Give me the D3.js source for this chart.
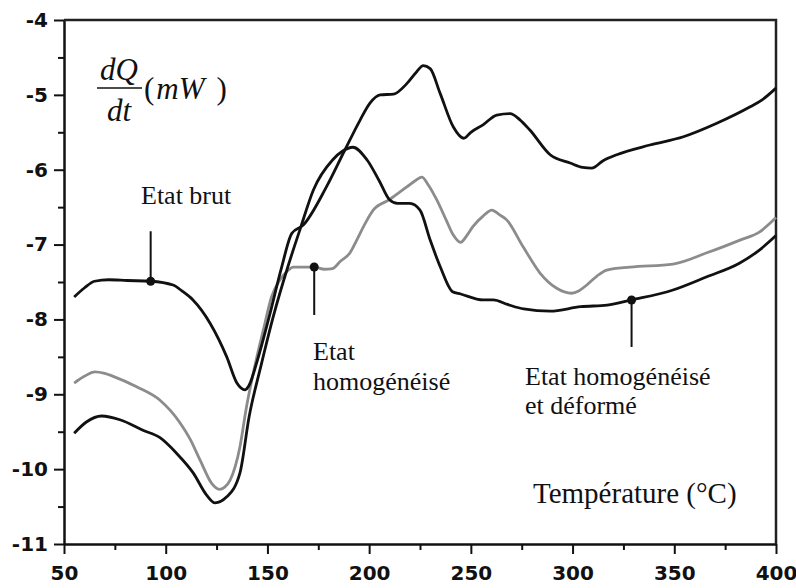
<!DOCTYPE html>
<html>
<head>
<meta charset="utf-8">
<script src="https://cdn.jsdelivr.net/npm/d3@7"></script>
<style>
  body { margin: 0; background: #fff; }
  .tick text { font-family: "DejaVu Sans", sans-serif; font-weight: bold; font-size: 20px; fill: #111; }
  .lbl { font-family: "Liberation Serif", "Times New Roman", serif; font-size: 26px; fill: #111; }
</style>
</head>
<body>
<div class="canvas"></div>
<script>
// data (temperature in °C, dQ/dt in mW)
const brutT = [55, 60, 65, 72, 81, 92.6, 103.6, 108, 113.4, 121.8, 130, 135, 139, 141, 144.7, 151, 157, 162, 167.6, 179, 188, 195.5, 200.4, 205.4, 212, 218.5, 223.4, 226.6, 230, 234.9, 241.4, 246.5, 250, 256, 262.7, 269.3, 274, 279, 289, 298.8, 305, 309.4, 315, 321.7, 338, 354.5, 370.9, 387.3, 393, 400]
const brutV = [-7.70, -7.58, -7.49, -7.47, -7.48, -7.49, -7.54, -7.62, -7.74, -8.05, -8.50, -8.85, -8.94, -8.88, -8.58, -7.95, -7.30, -6.85, -6.74, -6.23, -5.74, -5.34, -5.11, -5.00, -4.99, -4.85, -4.69, -4.61, -4.65, -4.98, -5.43, -5.58, -5.50, -5.40, -5.27, -5.25, -5.33, -5.47, -5.80, -5.91, -5.97, -5.98, -5.88, -5.80, -5.67, -5.56, -5.38, -5.16, -5.07, -4.91]

const homT = [55, 60, 65.2, 70, 74.2, 85.7, 97.2, 107, 112, 116.9, 122.6, 126.3, 129, 131.6, 136.5, 139.7, 144, 148, 152, 156.2, 160, 162.7, 173, 178, 182, 186, 190.6, 193.9, 198, 202, 210, 218.5, 223, 225.9, 229, 233.2, 238, 241.3, 245, 248, 251, 256, 260.3, 264, 267.6, 275.7, 284, 292, 299.6, 303, 307, 312, 316.8, 328.3, 349.4, 366, 382.3, 392, 400]
const homV = [-8.85, -8.76, -8.70, -8.72, -8.76, -8.90, -9.08, -9.38, -9.60, -9.88, -10.19, -10.27, -10.24, -10.15, -9.70, -9.17, -8.60, -8.14, -7.70, -7.47, -7.35, -7.30, -7.30, -7.33, -7.32, -7.22, -7.11, -6.94, -6.72, -6.54, -6.40, -6.23, -6.14, -6.10, -6.20, -6.40, -6.68, -6.87, -6.97, -6.88, -6.76, -6.62, -6.54, -6.60, -6.67, -7.03, -7.38, -7.58, -7.65, -7.62, -7.54, -7.42, -7.34, -7.30, -7.26, -7.11, -6.94, -6.83, -6.64]

const defT = [55, 61, 68.5, 77.5, 88.8, 97.2, 105.4, 113.5, 120.2, 124.2, 130, 136.5, 141, 147, 153, 160, 166, 172.6, 182, 187, 192, 199, 205, 210, 214, 220, 225, 230, 235, 241, 245, 256, 261, 268, 276, 289, 304, 317, 329, 349, 366, 382, 392, 400]
const defV = [-9.52, -9.37, -9.29, -9.34, -9.48, -9.58, -9.79, -10.05, -10.35, -10.45, -10.37, -10.05, -9.30, -8.60, -7.95, -7.30, -6.80, -6.27, -5.87, -5.75, -5.70, -5.87, -6.15, -6.40, -6.45, -6.45, -6.54, -6.94, -7.30, -7.63, -7.66, -7.74, -7.74, -7.80, -7.86, -7.89, -7.83, -7.81, -7.74, -7.61, -7.43, -7.25, -7.07, -6.88]

const xTicks = [50, 100, 150, 200, 250, 300, 350, 400]
const yTicks = [-4, -5, -6, -7, -8, -9, -10, -11]

const margin = {top: 20, right: 20, bottom: 44, left: 64}
const graphWidth = 796 - margin.left - margin.right
const graphHeight = 588 - margin.top - margin.bottom

const svg = d3.select('.canvas')
    .append('svg')
    .attr('width', 796)
    .attr('height', 588)

const graph = svg.append('g')
    .attr('transform', `translate(${margin.left}, ${margin.top})`)

const x = d3.scaleLinear().domain([50, 400]).range([0, graphWidth])
const y = d3.scaleLinear().domain([-11, -4]).range([graphHeight, 0])

// minor ticks first, then major ticks with labels
const xMinor = d3.range(75, 400, 50)
const yMinor = d3.range(-10.5, -4, 1)

graph.append('g')
    .attr('transform', `translate(0, ${graphHeight})`)
    .call(d3.axisBottom(x).tickValues(xMinor).tickSize(6).tickFormat(''))
    .call(g => g.select('.domain').remove())
graph.append('g')
    .call(d3.axisLeft(y).tickValues(yMinor).tickSize(6).tickFormat(''))
    .call(g => g.select('.domain').remove())

const xAxisGroup = graph.append('g')
    .attr('transform', `translate(0, ${graphHeight})`)
    .call(d3.axisBottom(x).tickValues(xTicks).tickSize(10).tickPadding(9).tickSizeOuter(0))
const yAxisGroup = graph.append('g')
    .call(d3.axisLeft(y).tickValues(yTicks).tickSize(10).tickPadding(6).tickSizeOuter(0)
        .tickFormat(d => d))

graph.selectAll('.tick line').attr('stroke', '#111').attr('stroke-width', 2)
graph.selectAll('.domain').attr('stroke', '#111').attr('stroke-width', 2.5)
xAxisGroup.selectAll('text').attr('dy', '0.85em')

// top and right frame
graph.append('path')
    .attr('d', `M0,0H${graphWidth}V${graphHeight}`)
    .attr('fill', 'none')
    .attr('stroke', '#222')
    .attr('stroke-width', 2.5)

const line = d3.line()
    .x(d => x(d[0]))
    .y(d => y(d[1]))
    .curve(d3.curveMonotoneX)

const series = [
    {T: homT, V: homV, color: '#8c8c8c'},
    {T: brutT, V: brutV, color: '#111'},
    {T: defT, V: defV, color: '#111'}
]

series.forEach(s => {
    graph.append('path')
        .datum(d3.zip(s.T, s.V))
        .attr('d', line)
        .attr('fill', 'none')
        .attr('stroke', s.color)
        .attr('stroke-width', 2.8)
        .attr('stroke-linejoin', 'round')
})

// pointer marks: dot on the curve + vertical stick
const pointers = [
    {T: 92.6, V: -7.49, dy: -50},
    {T: 173, V: -7.30, dy: 48},
    {T: 329, V: -7.74, dy: 47}
]
pointers.forEach(p => {
    graph.append('line')
        .attr('x1', x(p.T)).attr('x2', x(p.T))
        .attr('y1', y(p.V)).attr('y2', y(p.V) + p.dy)
        .attr('stroke', '#111')
        .attr('stroke-width', 2)
    graph.append('circle')
        .attr('cx', x(p.T))
        .attr('cy', y(p.V))
        .attr('r', 4.5)
        .attr('fill', '#111')
})

const labels = [
    {text: 'Etat brut', x: 141, y: 204},
    {text: 'Etat', x: 313, y: 360},
    {text: 'homogénéisé', x: 313, y: 390},
    {text: 'Etat homogénéisé', x: 525, y: 385},
    {text: 'et déformé', x: 525, y: 414}
]
labels.forEach(l => {
    svg.append('text')
        .attr('class', 'lbl')
        .attr('x', l.x)
        .attr('y', l.y)
        .text(l.text)
})

svg.append('text')
    .attr('class', 'lbl')
    .attr('x', 533)
    .attr('y', 503)
    .style('font-size', '29px')
    .text('Température (°C)')

// y label dQ/dt (mW)
const yl = svg.append('g').attr('class', 'lbl').style('font-size', '31px')
yl.append('text').attr('x', 119).attr('y', 80).attr('text-anchor', 'middle')
    .style('font-style', 'italic').text('dQ')
yl.append('line').attr('x1', 97).attr('x2', 142).attr('y1', 88).attr('y2', 88)
    .attr('stroke', '#111').attr('stroke-width', 1.5)
yl.append('text').attr('x', 119).attr('y', 121).attr('text-anchor', 'middle')
    .style('font-style', 'italic').text('dt')
const mw = yl.append('text').attr('x', 144).attr('y', 99)
mw.append('tspan').text('(')
mw.append('tspan').attr('dx', 2).style('font-style', 'italic').text('mW')
mw.append('tspan').attr('dx', 12).text(')')
</script>
</body>
</html>
